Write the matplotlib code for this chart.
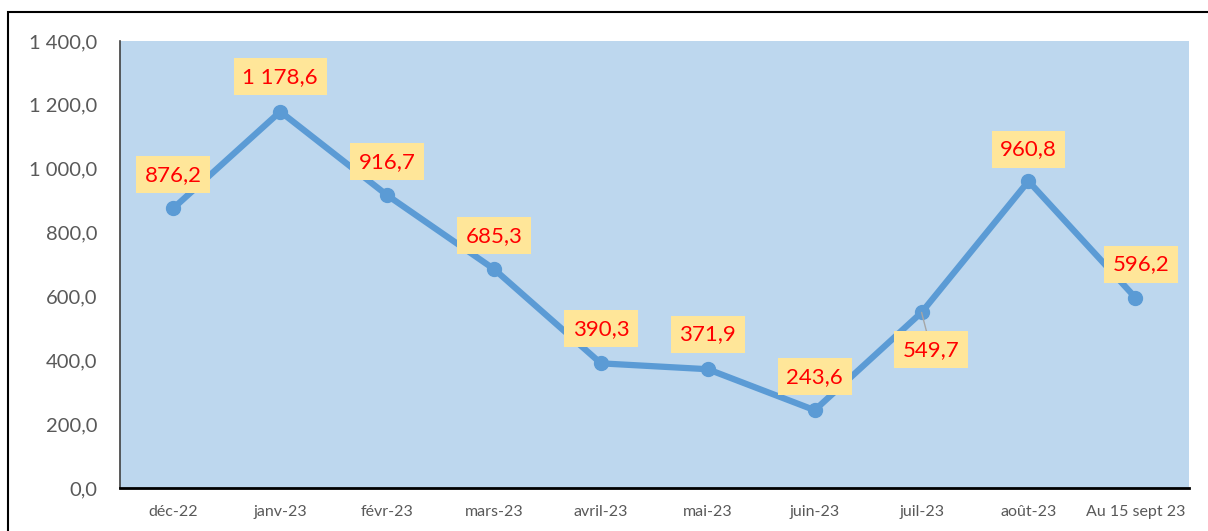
import matplotlib.pyplot as plt
from matplotlib.patches import Rectangle
from matplotlib.ticker import FuncFormatter

plt.rcParams['font.family'] = ['Lato', 'DejaVu Sans']

# Data
months = ["déc-22", "janv-23", "févr-23", "mars-23", "avril-23", "mai-23",
          "juin-23", "juil-23", "août-23", "Au 15 sept 23"]
values = [876.2, 1178.6, 916.7, 685.3, 390.3, 371.9, 243.6, 549.7, 960.8, 596.2]
# label offsets in points (dx, dy)
label_offsets = [(0, 24), (0, 25), (0, 24), (0, 24), (0, 25), (0, 25),
                 (0, 24), (7, -27), (0, 23), (4, 24)]


def fr_fmt(v, pos=None):
    s = f"{v:,.1f}".replace(",", " ").replace(".", ",")
    return s


fig = plt.figure(figsize=(12.08, 5.31), dpi=100)
ax = fig.add_axes([0.0993, 0.081, 0.8848, 0.842])

# outer chart border
fig.patches.append(Rectangle((8 / 1208, -0.05), 1.1, 1 - 12 / 531 + 0.05,
                             transform=fig.transFigure, fill=False,
                             edgecolor="black", linewidth=1.5))

ax.set_facecolor("#BDD7EE")
x = [i + 0.5 for i in range(len(months))]
ax.plot(x, values, color="#5B9BD5", linewidth=4.5, marker="o", markersize=10,
        zorder=3)

for xi, v, (dx, dy) in zip(x, values, label_offsets):
    arrow = None
    if dy < 0:
        arrow = dict(arrowstyle="-", color="#A6A6A6", linewidth=1,
                     shrinkA=0, shrinkB=0)
    ax.annotate(fr_fmt(v), xy=(xi, v), xytext=(dx, dy),
                textcoords="offset points", ha="center", va="center",
                fontsize=16, color="#FF0000", zorder=4,
                bbox=dict(boxstyle="square,pad=0.38", facecolor="#FFE699",
                          edgecolor="none"),
                arrowprops=arrow)

ax.set_xlim(0, 10)
ax.set_ylim(0, 1400)
ax.set_xticks(x)
ax.set_xticklabels(months, fontsize=11.5, color="#595959")
ax.set_yticks(range(0, 1401, 200))
ax.yaxis.set_major_formatter(FuncFormatter(fr_fmt))
ax.tick_params(axis="y", labelsize=14.5, labelcolor="#595959", length=0, pad=16)
ax.tick_params(axis="x", length=0, pad=12)

for s in ["top", "right"]:
    ax.spines[s].set_visible(False)
ax.spines["left"].set_color("#404040")
ax.spines["left"].set_linewidth(1.2)
ax.spines["bottom"].set_color("black")
ax.spines["bottom"].set_linewidth(2)

fig.savefig("out.png", dpi=100)
